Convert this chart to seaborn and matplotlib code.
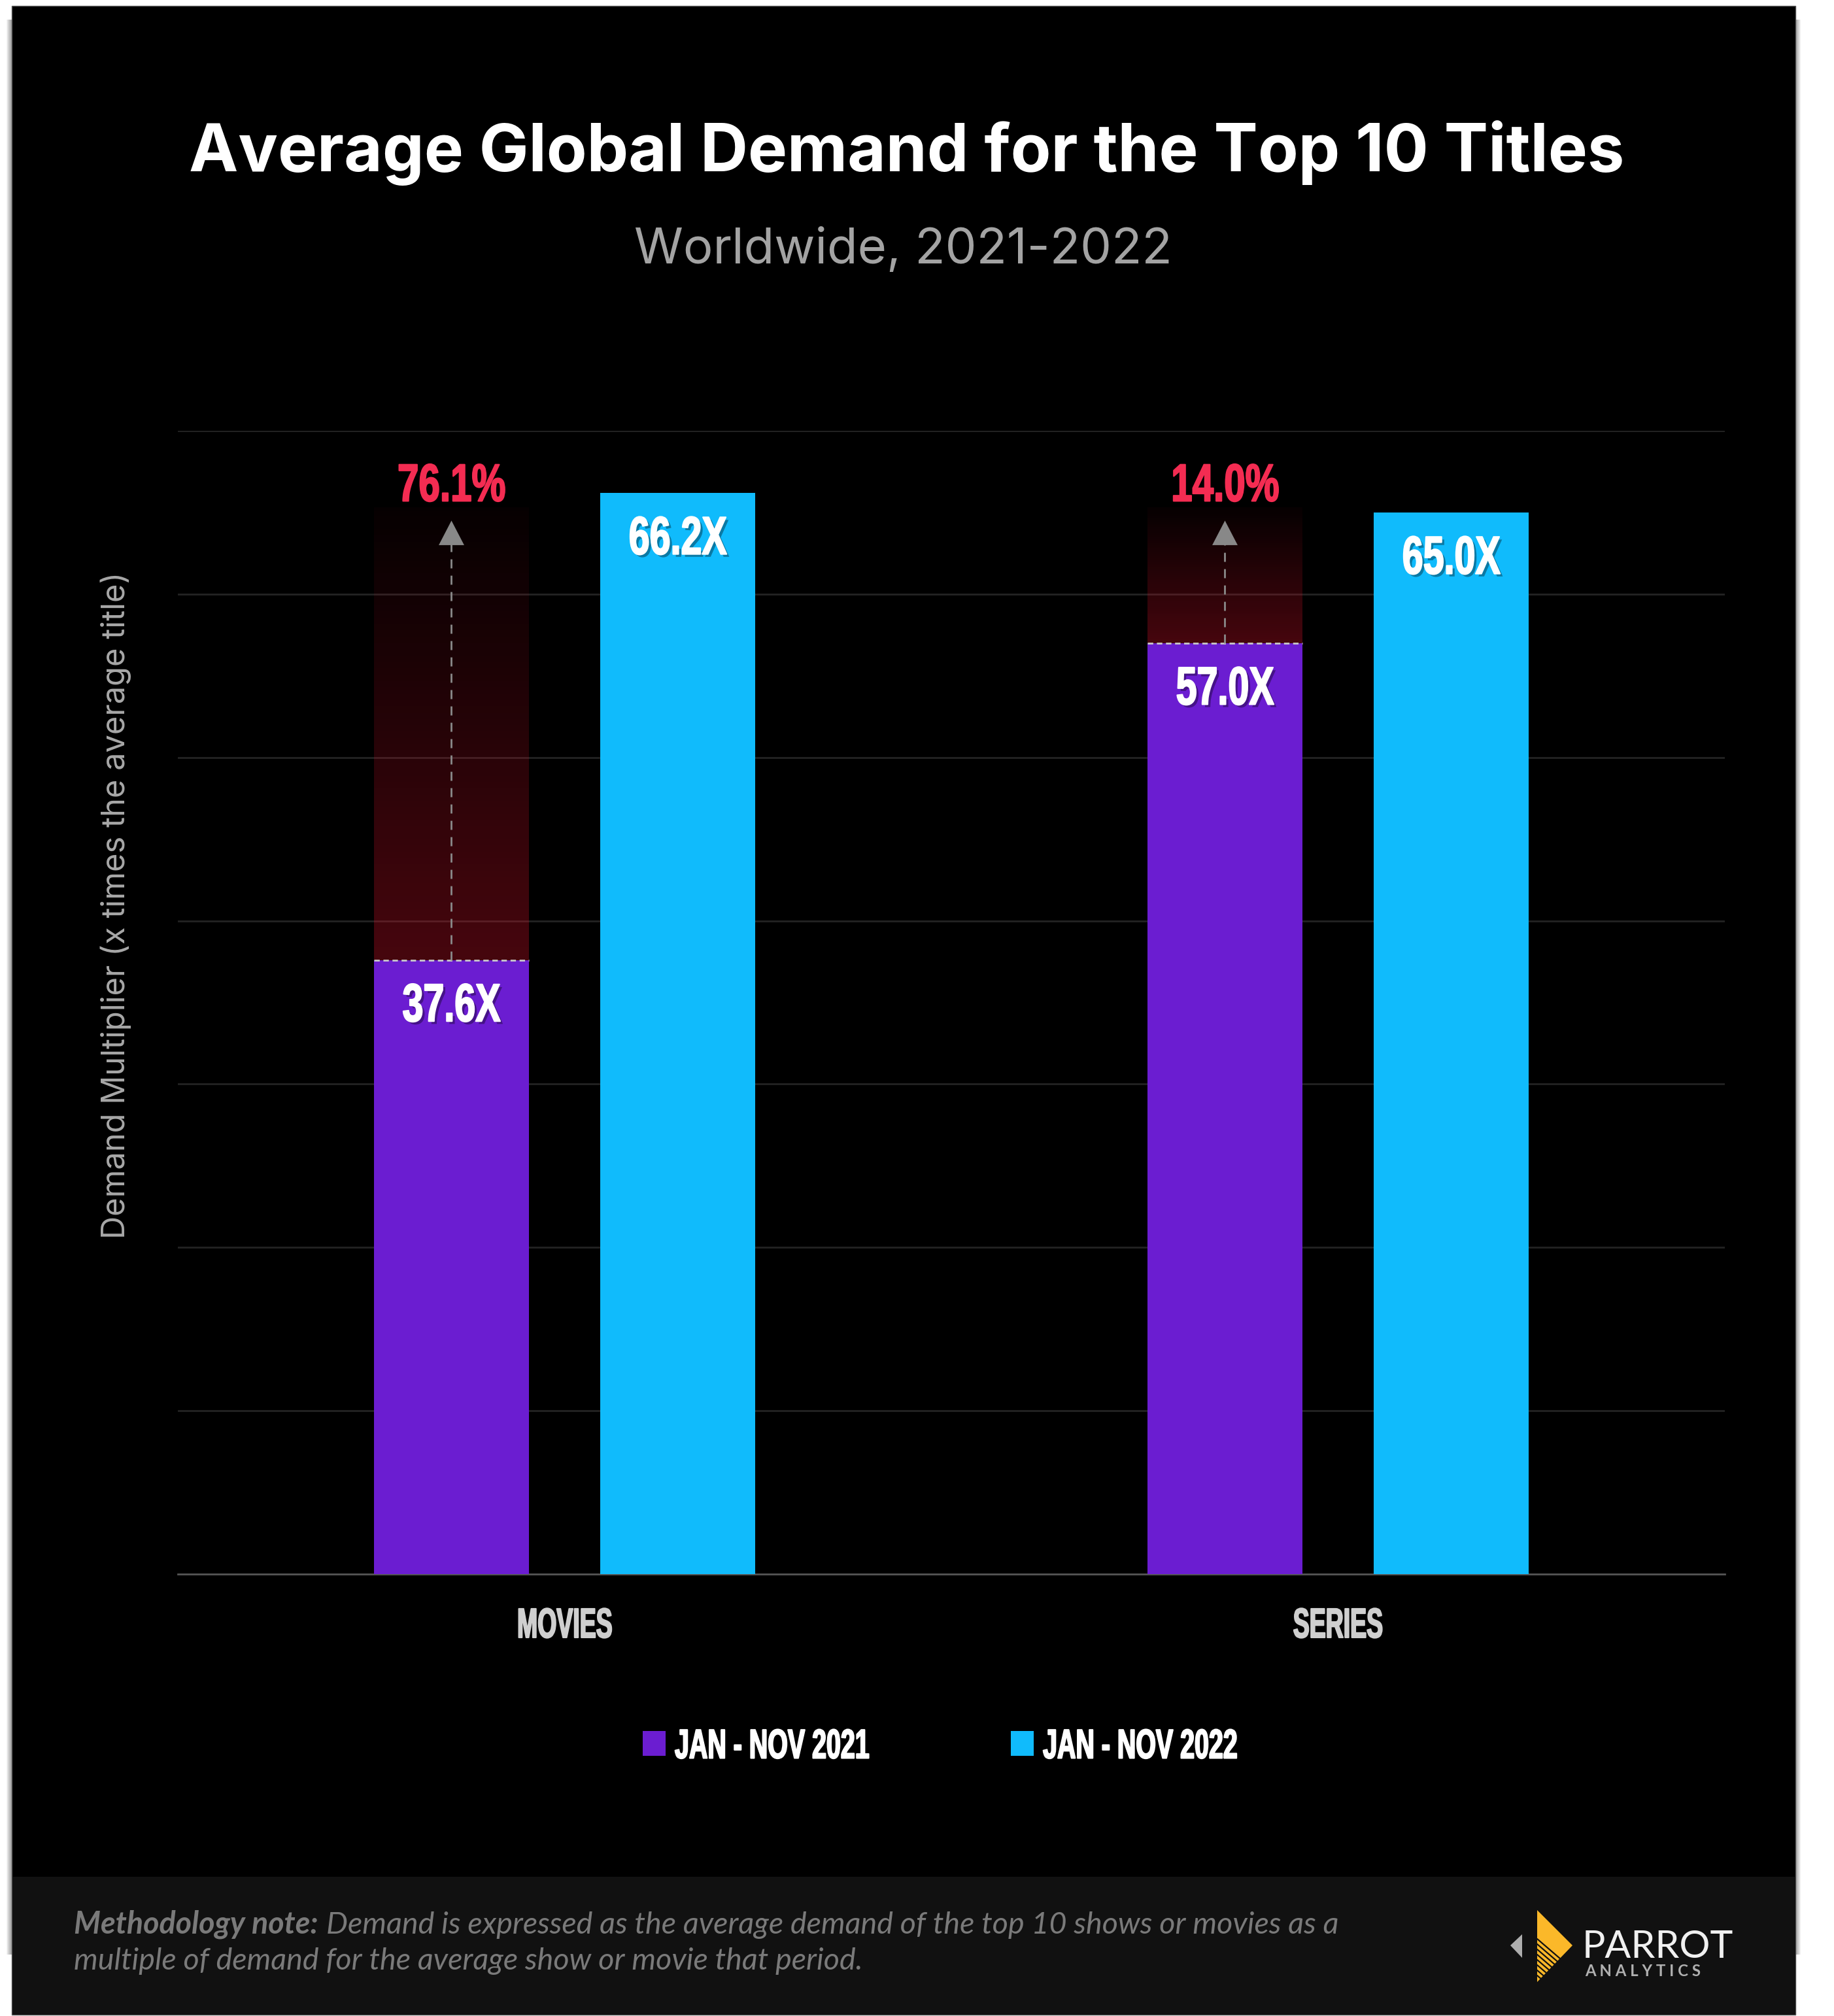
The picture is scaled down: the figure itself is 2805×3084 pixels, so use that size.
import numpy as np
import pandas as pd
import matplotlib.pyplot as plt
import matplotlib.patheffects as pe
from matplotlib.patches import Rectangle, Polygon
from matplotlib.lines import Line2D
from matplotlib.transforms import Affine2D
import seaborn as sns

categories = ["MOVIES", "SERIES"]
periods = ["JAN - NOV 2021", "JAN - NOV 2022"]
values_2021 = [37.6, 57.0]
values_2022 = [66.2, 65.0]
growth = ["76.1%", "14.0%"]
y_ticks = [0, 10, 20, 30, 40, 50, 60, 70]

PURPLE = "#6b1dd1"
BLUE = "#10bbfc"
RED = "#f42c52"
NARROW = ["Liberation Sans"]
GEO = ["Inter", "DejaVu Sans"]
NOTE = ["Lato", "DejaVu Sans"]

W, H = 2805, 3084


def fx(px):
    return px / W


def fy(py):
    return 1 - py / H


def px(p):
    # pixels to points at dpi 100
    return p * 0.72


class Squeeze(pe.AbstractPathEffect):
    # no condensed font installed, so narrow the glyphs horizontally
    def __init__(self, sx, inner=None, left=False):
        super().__init__()
        self.sx = sx
        self.inner = inner or pe.Normal()
        self.left = left

    def draw_path(self, renderer, gc, tpath, affine, rgbFace=None):
        ext = tpath.get_extents()
        c = 0 if self.left else (ext.x0 + ext.x1) / 2
        squeezed = Affine2D().translate(-c, 0).scale(self.sx, 1).translate(c, 0) + affine
        self.inner.draw_path(renderer, gc, tpath, squeezed, rgbFace)


def condensed(sx, color, shadow=False, left=False, stroke=1.5):
    effects = []
    if shadow:
        effects.append(Squeeze(sx, pe.SimplePatchShadow(offset=(3, -3), shadow_rgbFace="black", alpha=0.35), left))
    effects.append(Squeeze(sx, pe.Stroke(linewidth=stroke, foreground=color), left))
    effects.append(Squeeze(sx, None, left))
    return effects


sns.set_theme(style="dark", rc={"axes.facecolor": "none", "figure.facecolor": "white"})
plt.rcParams["font.family"] = GEO

fig = plt.figure(figsize=(W / 100, H / 100), dpi=100)

# card with soft shadow
for grow in range(1, 9):
    fig.add_artist(Rectangle((fx(18 - grow), fy(2990)), fx(2728 + 2 * grow), fy(30) - fy(2990),
                             transform=fig.transFigure, fc="black", ec="none", alpha=0.05, zorder=-5))
fig.add_artist(Rectangle((fx(18), fy(3082)), fx(2728), fy(9) - fy(3082), transform=fig.transFigure,
                         fc="black", ec="#555555", lw=1, zorder=-4))
fig.add_artist(Rectangle((fx(19), fy(3081)), fx(2726), fy(2871) - fy(3081), transform=fig.transFigure,
                         fc="#111111", ec="none", zorder=-3))

ax = fig.add_axes([fx(272), fy(2408), fx(2638 - 272), fy(659) - fy(2408)])

df = pd.DataFrame({
    "category": categories * 2,
    "period": [periods[0]] * 2 + [periods[1]] * 2,
    "value": values_2021 + values_2022,
})
sns.barplot(data=df, x="category", y="value", hue="period", order=categories, hue_order=periods,
            palette=[PURPLE, BLUE], width=0.585, gap=0.316, saturation=1, linewidth=0, ax=ax, zorder=3)

ax.set_xlim(-0.5, 1.5)
ax.set_ylim(0, 70)
ax.set_yticks(y_ticks)
ax.set_yticklabels([])
ax.grid(axis="y", color="#232323", lw=2)
ax.set_axisbelow(True)
ax.tick_params(axis="both", length=0)
ax.tick_params(axis="x", pad=36, labelsize=px(64), colors="#cfcfcf")
for lab in ax.get_xticklabels():
    lab.set_fontfamily(NARROW)
    lab.set_fontweight("bold")
    lab.set_path_effects(condensed(0.585, "#cfcfcf"))
ax.set_xlabel("")
ax.set_ylabel("Demand Multiplier (x times the average title)", color="#a8a8a8", fontsize=px(48.8))
ax.yaxis.set_label_coords((201 - 272) / (2638 - 272), (2408 - 1385) / (2408 - 659))
sns.despine(ax=ax, left=True, right=True, top=True)
ax.spines["bottom"].set_color("#555555")
ax.spines["bottom"].set_linewidth(2)

# red fade above the 2021 bars, dashed growth arrow
fade = np.zeros((256, 1, 4))
fade[..., 0], fade[..., 1], fade[..., 2] = 0.9, 0.08, 0.18
fade[:, 0, 3] = np.linspace(0.03, 0.31, 256)
for bar, value, label in zip(ax.containers[0], values_2021, growth):
    left, width = bar.get_x(), bar.get_width()
    mid = left + width / 2
    ax.imshow(fade, extent=(left, left + width, value, 65.3), aspect="auto", zorder=2, interpolation="bilinear")
    ax.plot([left, left + width], [value, value], color="#c9c9c9", lw=2, ls=(0, (3, 2)), zorder=4)
    ax.plot([mid, mid], [value, 63.1], color="#8a8a8a", lw=2, ls=(0, (5, 4)), zorder=4)
    ax.annotate("", xy=(mid, 64.5), xytext=(mid, 63.4),
                arrowprops=dict(arrowstyle="-|>,head_length=1.35,head_width=0.7", color="#888888",
                                mutation_scale=20, shrinkA=0, shrinkB=0, lw=0), zorder=5)
    ax.text(mid, 65.7, label, color=RED, fontsize=px(81), family=NARROW, fontweight="bold", ha="center",
            va="baseline", path_effects=condensed(0.72, RED))
ax.set_xlim(-0.5, 1.5)
ax.set_ylim(0, 70)

# value labels
for container, vals in zip(ax.containers[:2], [values_2021, values_2022]):
    for bar, value in zip(container, vals):
        ax.text(bar.get_x() + bar.get_width() / 2, value - 3.75, f"{value:.1f}X", color="white",
                fontsize=px(82), family=NARROW, fontweight="bold", ha="center", va="baseline",
                path_effects=condensed(0.70, "white", shadow=True), zorder=6)

sns.move_legend(ax, "center", bbox_to_anchor=((1527 - 272) / (2638 - 272), (2408 - 2673) / (2408 - 659)),
                ncol=2, title=None, frameon=False, handlelength=0.56, handleheight=0.56,
                handletextpad=0.22, columnspacing=0.6, labelcolor="white",
                prop={"family": NARROW, "weight": "bold", "size": px(63)})
for t in ax.get_legend().get_texts():
    t.set_path_effects(condensed(0.625, "white", left=True))

# title block
fig.text(fx(1387), fy(262), "Average Global Demand for the Top 10 Titles", color="white", fontsize=px(101),
         fontweight="bold", ha="center", va="baseline")
fig.text(fx(1381), fy(403), "Worldwide, 2021-2022", color="#a3a3a3", fontsize=px(76), ha="center", va="baseline")

# footer note
note_bold = fig.text(fx(113), fy(2958), "Methodology note:", color="#7a7a7a", fontsize=px(46.6),
                     family=NOTE, fontweight="bold", style="italic", va="baseline")
fig.canvas.draw()
bb = note_bold.get_window_extent()
fig.text((bb.x1 + 12) / W, fy(2958), "Demand is expressed as the average demand of the top 10 shows or movies as a",
         color="#7a7a7a", fontsize=px(46.6), family=NOTE, style="italic", va="baseline")
fig.text(fx(113), fy(3013), "multiple of demand for the average show or movie that period.",
         color="#7a7a7a", fontsize=px(46.6), family=NOTE, style="italic", va="baseline")

# logo
fig.add_artist(Polygon([(fx(2328), fy(2959)), (fx(2310), fy(2976)), (fx(2328), fy(2995))],
                       transform=fig.transFigure, fc="#aeaeae", ec="none"))
fig.add_artist(Polygon([(fx(2351), fy(2922)), (fx(2405), fy(2976)), (fx(2351), fy(3032))],
                       transform=fig.transFigure, fc="#fbb829", ec="none"))
for y0 in range(2966, 3030, 8):
    dx = (3032 - y0) / 1.9
    fig.add_artist(Line2D([fx(2351), fx(2351 + dx)], [fy(y0), fy(y0 + 0.86 * dx)], transform=fig.transFigure,
                          color="#111111", lw=1.6))
fig.text(fx(2420), fy(2995), "PARROT", color="#f0f0f0", fontsize=px(59), family=NOTE, va="baseline")
fig.text(fx(2424), fy(3023), "A N A L Y T I C S", color="#b0b0b0", fontsize=px(24), family=NOTE, fontweight="bold",
         va="baseline")

fig.savefig("out.png", dpi=100)
